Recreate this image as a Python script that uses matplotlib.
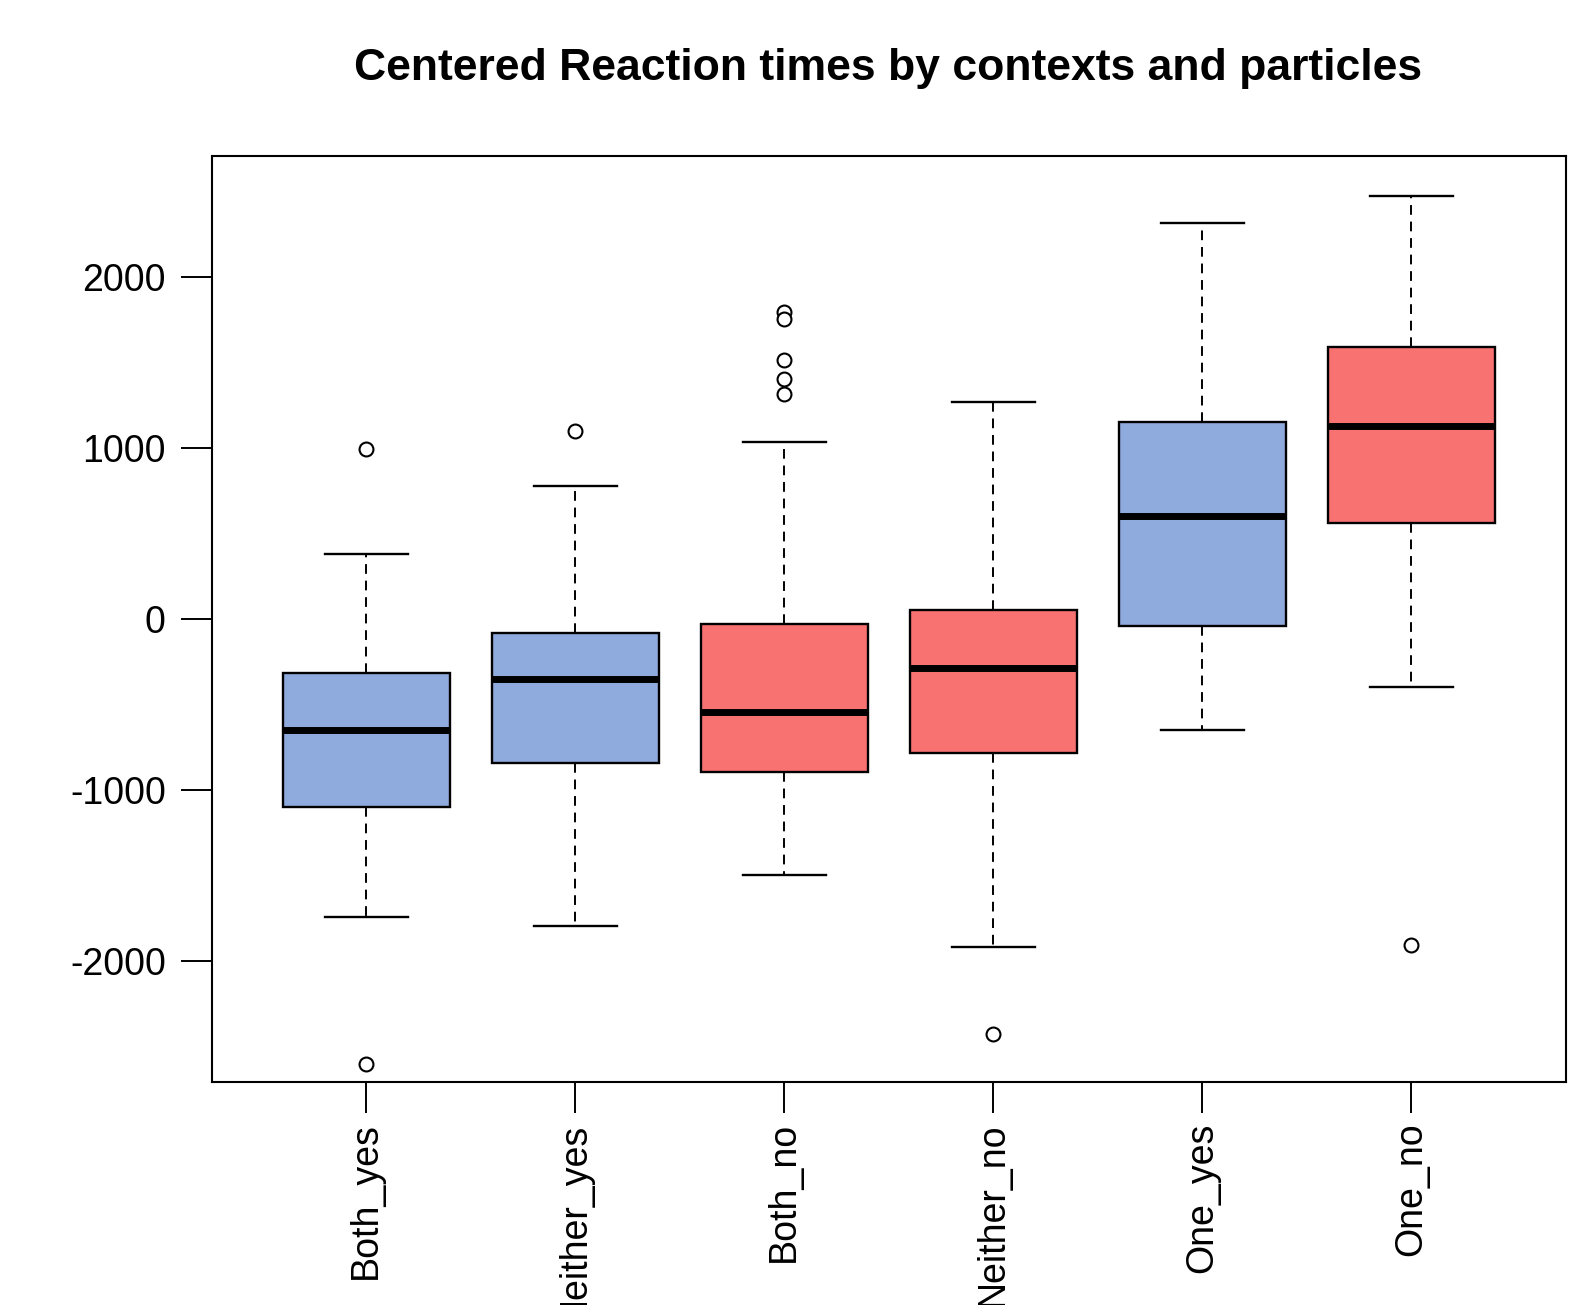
import matplotlib
matplotlib.use("Agg")
import matplotlib.pyplot as plt

categories = ["Both_yes", "Neither_yes", "Both_no", "Neither_no", "One_yes", "One_no"]
whislo = [-1740, -1793, -1499, -1917, -649, -395]
q1 = [-1097, -844, -897, -785, -41, 560]
med = [-649, -348, -543, -283, 602, 1133]
q3 = [-313, -83, -29, 53, 1156, 1593]
whishi = [383, 779, 1038, 1268, 2319, 2478]
fliers = [[997, -2602], [1103], [1799, 1758, 1516, 1404, 1316], [-2425], [], [-1906]]
fill_colors = ["#8FAADC", "#8FAADC", "#F87272", "#F87272", "#8FAADC", "#F87272"]
title = "Centered Reaction times by contexts and particles"
yticks = [-2000, -1000, 0, 1000, 2000]

plt.rcParams["font.family"] = ["Liberation Sans", "DejaVu Sans"]
fig = plt.figure(figsize=(15.81, 13.05), dpi=100)
ax = fig.add_axes([0.1339, 0.1709, 0.8566, 0.7093])

stats = []
for i, c in enumerate(categories):
    stats.append(dict(label=c, whislo=whislo[i], q1=q1[i], med=med[i], q3=q3[i],
                      whishi=whishi[i], fliers=fliers[i]))

bp = ax.bxp(stats, positions=range(1, 7), widths=0.8, patch_artist=True,
            showfliers=True,
            boxprops=dict(linewidth=1.7, edgecolor="black"),
            medianprops=dict(color="black", linewidth=5, solid_capstyle="butt"),
            whiskerprops=dict(color="black", linewidth=1.4, linestyle=(0, (5, 3.5))),
            capprops=dict(color="black", linewidth=1.7),
            flierprops=dict(marker="o", markersize=10, markerfacecolor="white",
                            markeredgecolor="black", markeredgewidth=1.5, linestyle="none"),
            capwidths=0.4)
for p, col in zip(bp["boxes"], fill_colors):
    p.set_facecolor(col)

ax.set_xlim(0.26, 6.74)
ax.set_ylim(-2708, 2708)
ax.set_yticks(yticks)
ax.set_yticklabels([str(v) for v in yticks])
ax.set_xticks(range(1, 7))
ax.set_xticklabels(categories, rotation=90, va="top")
ax.tick_params(axis="both", direction="out", length=22, width=1.4, labelsize=27, pad=7,
               colors="black")
ax.tick_params(axis="y", pad=11)
for s in ax.spines.values():
    s.set_linewidth(1.5)

fig.text(0.5618, 1 - 68.5 / 1305, title, ha="center", va="center",
         fontsize=32, fontweight="bold")

fig.savefig("out.png", dpi=100)
